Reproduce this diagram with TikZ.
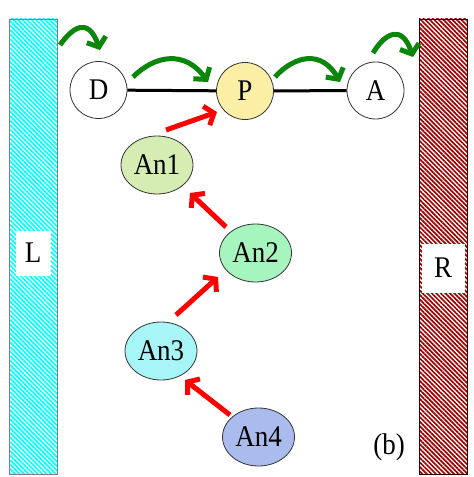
\documentclass[tikz,border=0pt]{standalone}
\usepackage{fontspec}
\setmainfont{Liberation Serif}[FakeStretch=0.9]
\usetikzlibrary{shapes.geometric,patterns.meta,arrows.meta}
\definecolor{pfill}{HTML}{FBEFA6}
\definecolor{aone}{HTML}{D5EDB3}
\definecolor{atwo}{HTML}{A6F5BF}
\definecolor{athree}{HTML}{A8F5F7}
\definecolor{afour}{HTML}{AABBEE}
\definecolor{hatchred}{HTML}{A00000}
\definecolor{garrow}{HTML}{0A860A}
\tikzset{
  txt/.style={font=\fontsize{30bp}{33bp}\selectfont},
  site/.style={circle,draw=black!80,line width=0.8bp,minimum size=57bp,inner sep=0pt,txt},
  anc/.style={ellipse,draw=black!80,line width=0.8bp,minimum width=72bp,minimum height=58bp,inner sep=0pt,txt},
  lbox/.style={fill=white,inner sep=0pt,txt},
  greenarrow/.style={draw=garrow,line width=5bp,-{Straight Barb[length=8bp,width=20bp]}},
  redarrow/.style={draw=red,line width=5bp,-{Straight Barb[length=8bp,width=20bp]}},
  bond/.style={draw=black,line width=3bp}
}
\begin{document}
\begin{tikzpicture}[x=1bp,y=-1bp]
\useasboundingbox (0,0) rectangle (474,477);
% leads
\path[draw=black!50,line width=0.8bp,pattern={Lines[angle=-45,distance=3.2bp,line width=1.7bp]},pattern color=cyan] (9,19) rectangle (57,474);
\path[draw=black!80!red,line width=0.8bp,pattern={Lines[angle=-45,distance=3.2bp,line width=1.7bp]},pattern color=hatchred] (419,19) rectangle (467,474);
\node[lbox,minimum width=35bp,minimum height=45bp] (L) at (33,253) {L};
\node[lbox,minimum width=43bp,minimum height=49bp] (R) at (443,268) {R};
% sites
\node[site] (D) at (98.5,90) {D};
\node[site,fill=pfill] (P) at (245,91) {P};
\node[site] (A) at (375.5,90.5) {A};
\draw[bond] (D) -- (P);
\draw[bond] (P) -- (A);
% ancillas
\node[anc,fill=aone] (An1) at (157,165) {An1};
\node[anc,fill=atwo] (An2) at (255.5,253) {An2};
\node[anc,fill=athree] (An3) at (161,351) {An3};
\node[anc,fill=afour] (An4) at (258.5,437) {An4};
% green hopping arrows
\coordinate (g1s) at (60,45); \coordinate (g1e) at (100,50);
\coordinate (g2s) at (133,77); \coordinate (g2e) at (208,82);
\coordinate (g3s) at (275,77); \coordinate (g3e) at (340,82);
\coordinate (g4s) at (373,53); \coordinate (g4e) at (413,57);
\draw[greenarrow] (g1s) .. controls (72,28) and (88,16) .. (g1e);
\draw[greenarrow] (g2s) .. controls (155,55) and (185,50) .. (g2e);
\draw[greenarrow] (g3s) .. controls (295,55) and (322,50) .. (g3e);
\draw[greenarrow] (g4s) .. controls (385,33) and (402,24) .. (g4e);
% red arrows
\coordinate (r1s) at (166,130); \coordinate (r1e) at (217,112);
\coordinate (r2s) at (226,227); \coordinate (r2e) at (190,193);
\coordinate (r3s) at (176,315); \coordinate (r3e) at (218,277);
\coordinate (r4s) at (230,415); \coordinate (r4e) at (185,380);
\draw[redarrow] (r1s) -- (r1e);
\draw[redarrow] (r2s) -- (r2e);
\draw[redarrow] (r3s) -- (r3e);
\draw[redarrow] (r4s) -- (r4e);
\node[txt,inner sep=0pt] (lab) at (389,447) {(b)};
\end{tikzpicture}
\end{document}
